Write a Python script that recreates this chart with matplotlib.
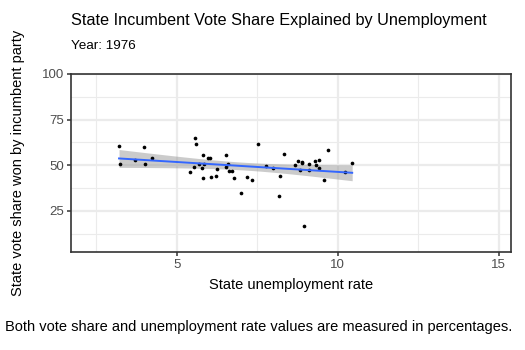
import numpy as np
import matplotlib
matplotlib.use("Agg")
import matplotlib.pyplot as plt

plt.rcParams["font.family"] = ["Liberation Sans", "DejaVu Sans"]

# --------- data ---------
unemp = [3.21, 3.24, 3.98, 4.02, 3.71, 4.23, 5.41, 5.57, 5.60, 5.54,
         5.70, 5.82, 5.79, 5.82, 5.86, 5.96, 6.04, 6.07, 6.22, 6.25,
         6.53, 6.53, 6.59, 6.63, 6.72, 6.78, 6.99, 7.18, 7.34, 7.52,
         7.77, 7.99, 8.17, 8.21, 8.33, 8.67, 8.76, 8.83, 8.89, 8.89,
         8.95, 9.11, 9.12, 9.30, 9.33, 9.42, 9.42, 9.57, 9.70, 10.23,
         10.45]
vote = [60.7, 50.8, 60.1, 50.8, 53.0, 54.1, 46.4, 65.1, 61.8, 49.1,
        50.8, 55.7, 48.6, 43.1, 50.8, 54.1, 54.1, 43.7, 44.2, 48.1,
        55.7, 49.1, 50.8, 47.0, 47.0, 43.1, 34.9, 43.7, 42.0, 61.8,
        49.7, 48.6, 33.2, 44.2, 56.3, 50.2, 52.4, 47.5, 51.9, 51.3,
        16.8, 50.8, 47.5, 52.4, 50.2, 53.0, 48.6, 42.0, 58.5, 46.4,
        51.3]
x_ticks = [5, 10, 15]
y_ticks = [25, 50, 75, 100]

x = np.array(unemp)
y = np.array(vote)

# --------- lm fit + 95% band (like geom_smooth(method="lm")) ---------
n = len(x)
b1, b0 = np.polyfit(x, y, 1)
resid = y - (b0 + b1 * x)
s = np.sqrt(np.sum(resid ** 2) / (n - 2))
xs = np.linspace(x.min(), x.max(), 80)
ys = b0 + b1 * xs
se = s * np.sqrt(1 / n + (xs - x.mean()) ** 2 / np.sum((x - x.mean()) ** 2))
t = 2.01
lo, hi = ys - t * se, ys + t * se

# --------- plot ---------
fig = plt.figure(figsize=(5.25, 3.5), dpi=100)
ax = fig.add_axes([0.1347, 0.28, 0.8386, 0.5086])

ax.set_xlim(1.71, 15.38)
ax.set_ylim(2.4, 100)
ax.set_xticks(x_ticks)
ax.set_yticks(y_ticks)
ax.set_xticks([2.5, 7.5, 12.5], minor=True)
ax.set_yticks([12.5, 37.5, 62.5, 87.5], minor=True)
ax.grid(True, which="major", color="#EBEBEB", lw=1.6)
ax.grid(True, which="minor", color="#EBEBEB", lw=0.8)
ax.set_axisbelow(True)
ax.tick_params(which="major", length=3, width=1.1, color="#333333",
               labelcolor="#4D4D4D", labelsize=9.5, pad=2)
ax.tick_params(which="minor", length=0)
for sp in ax.spines.values():
    sp.set_color("#333333")
    sp.set_linewidth(1.2)

ax.fill_between(xs, lo, hi, color="#999999", alpha=0.5, lw=0, zorder=2)
ax.scatter(x, y, s=7, color="black", zorder=3, lw=0)
ax.plot(xs, ys, color="#3366FF", lw=1.4, zorder=4)

ax.set_xlabel("State unemployment rate", fontsize=10.5, labelpad=5)
ax.set_ylabel("State vote share won by incumbent party", fontsize=10.5, labelpad=12)

fig.text(0.1347, 0.94, "State Incumbent Vote Share Explained by Unemployment",
         fontsize=11.7, ha="left", va="center")
fig.text(0.1347, 0.868, "Year: 1976", fontsize=9.7, ha="left", va="center")
fig.text(0.4924, 0.066,
         "Both vote share and unemployment rate values are measured in percentages.",
         fontsize=10.5, ha="center", va="center")

fig.savefig("out.png", dpi=100)
